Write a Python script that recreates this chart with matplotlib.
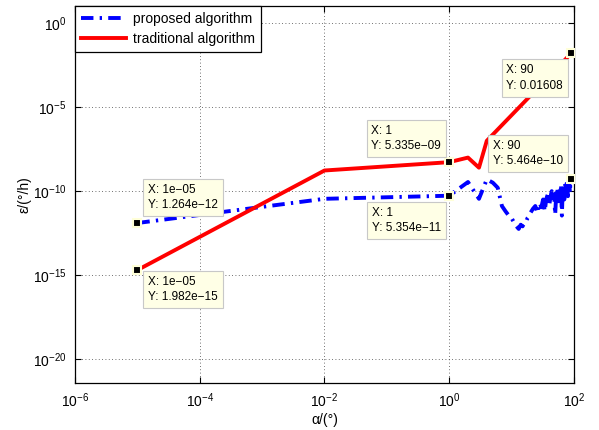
import matplotlib
matplotlib.use('Agg')
import matplotlib.pyplot as plt
import numpy as np

plt.rcParams['font.family'] = ['Liberation Sans', 'DejaVu Sans']
plt.rcParams['mathtext.fontset'] = 'custom'
plt.rcParams['mathtext.rm'] = 'Liberation Sans'
plt.rcParams['mathtext.it'] = 'Liberation Sans:italic'
plt.rcParams['mathtext.default'] = 'regular'

# proposed algorithm (blue dash-dot)
prop_x = [1e-5, 1e-2, 1, 2, 3, 4, 5, 6, 7, 8, 9, 10, 11, 12, 13, 14, 15, 16,
          17, 18, 19, 20, 22, 24, 26, 28, 30, 32, 34, 36, 38, 40, 42, 44, 46,
          48, 50, 52, 54, 56, 58, 60, 62, 64, 66, 68, 70, 72, 74, 76, 78, 80,
          82, 84, 86, 88, 90]
prop_y = [1.264e-12, 3.5e-11, 5.354e-11, 3.5e-10, 3.5e-11, 5.0e-10, 3.2e-10,
          1.6e-10, 1.3e-11, 6.3e-12, 3.5e-12, 2.5e-12, 1.3e-12, 8.0e-13,
          5.6e-13, 1.0e-12, 8.0e-13, 1.3e-12, 1.4e-12, 2.5e-12, 3.2e-12,
          5.0e-12, 8.9e-12, 1.3e-11, 5.0e-12, 2.0e-11, 1.1e-11, 3.2e-11,
          6.3e-12, 3.5e-11, 6.3e-11, 1.3e-11, 4.5e-11, 1.0e-10, 2.0e-11,
          6.3e-11, 4.0e-12, 7.9e-11, 1.6e-10, 2.5e-11, 1.3e-10, 4.5e-11,
          2.5e-10, 3.5e-12, 1.3e-10, 2.0e-10, 3.2e-11, 3.2e-10, 7.1e-11,
          2.5e-10, 4.0e-10, 5.0e-11, 3.2e-10, 5.0e-10, 7.9e-11, 3.5e-10,
          5.464e-10]

# traditional algorithm (red solid)
trad_x = [1e-5, 1e-2, 1, 2, 3, 4, 15, 40, 90]
trad_y = [1.982e-15, 1.7e-9, 5.335e-9, 1.0e-8, 2.5e-9, 1.0e-7, 1.6e-5,
          7.0e-4, 0.01608]

# data tips: x, y, offset (pixels), alignment
tips = [(1e-5, 1.264e-12, (11, 12), 'left', 'bottom'),
        (1e-5, 1.982e-15, (11, -6), 'left', 'top'),
        (1, 5.335e-09, (-8, 10), 'right', 'bottom'),
        (1, 5.354e-11, (-8, -11), 'right', 'top'),
        (90, 0.01608, (-8, -11), 'right', 'top'),
        (90, 5.464e-10, (-8, 12), 'right', 'bottom')]

fig = plt.figure(figsize=(5.99, 4.3), dpi=100)
ax = fig.add_axes([0.1252, 0.1093, 0.8330, 0.8767])

ax.loglog(prop_x, prop_y, color='#0000ff', lw=2.8,
          linestyle=(0, (3.2, 1.6, 0.6, 1.6)), label='proposed algorithm')
ax.loglog(trad_x, trad_y, color='#ff0000', lw=2.8, label='traditional algorithm')

for x, y, off, ha, va in tips:
    ax.plot([x], [y], 's', color='black', ms=6, mec='#ffffd8', mew=1.5, zorder=5)
    ax.annotate('X: %s\nY: %s' % (('%g' % x).replace('-', '\u2212'),
                                  ('%.4g' % y).replace('-', '\u2212')),
                xy=(x, y), xytext=off, textcoords='offset pixels',
                ha=ha, va=va, multialignment='left', fontsize=8.5, linespacing=1.35,
                bbox=dict(boxstyle='square,pad=0.42', fc='#ffffe6', ec='#c8c8c8', lw=0.8),
                zorder=6)

ax.set_xlim(1e-6, 1e2)
ax.set_ylim(10 ** -21.43, 10 ** 1.03)
ax.set_xticks([1e-6, 1e-4, 1e-2, 1e0, 1e2])
ax.set_yticks([1e-20, 1e-15, 1e-10, 1e-5, 1e0])
ax.minorticks_off()
ax.tick_params(which='both', direction='in', top=True, right=True, length=4,
               labelsize=10, pad=6)
ax.grid(True, linestyle=(0, (1, 3)), color='0.25', lw=0.6)
for s in ax.spines.values():
    s.set_linewidth(0.9)

ax.set_xlabel('\u03b1/(\u00b0)', fontsize=10, labelpad=2)
ax.set_ylabel('\u03b5/(\u00b0/h)', fontsize=10, labelpad=1)

leg = ax.legend(loc='upper left', fontsize=10, fancybox=False, edgecolor='black',
                framealpha=1, borderaxespad=0, handlelength=3.2, handletextpad=0.5,
                borderpad=0.45, labelspacing=0.4)
leg.get_frame().set_linewidth(0.9)

fig.savefig('out.png', dpi=100)
